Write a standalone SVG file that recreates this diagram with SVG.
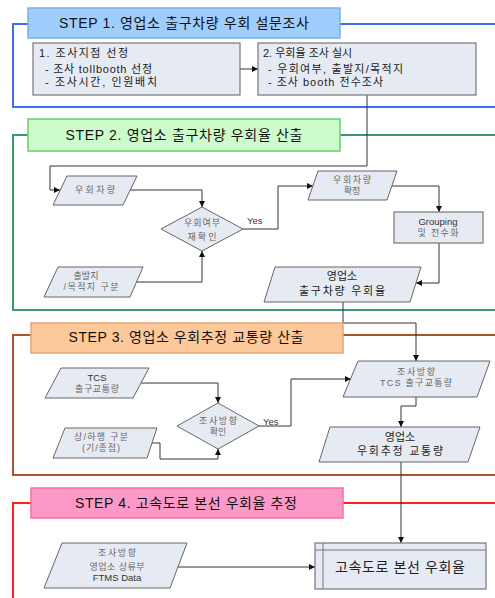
<svg xmlns="http://www.w3.org/2000/svg" width="495" height="598" viewBox="0 0 495 598">
<defs>
<marker id="ah" markerWidth="6" markerHeight="6" refX="6" refY="3" orient="auto" markerUnits="userSpaceOnUse"><path d="M0,0 L6,3 L0,6 z" fill="#111"/></marker>
<style>
text{font-family:"Liberation Sans","Noto Sans CJK KR",sans-serif}
.hdr{font-size:14px;fill:#111;text-anchor:middle}
.bx{fill:#e6ebf3;stroke:#777;stroke-width:1.2}
.nd{fill:#e6ebf3;stroke:#666;stroke-width:1}
.t11{font-size:11px;fill:#222}
.sm{font-size:9px;fill:#666;text-anchor:middle}
.smd{font-size:9.5px;fill:#333;text-anchor:middle}
.big{font-size:11px;fill:#222;text-anchor:middle}
.con{fill:none;stroke:#333;stroke-width:1}
.fr{fill:none;stroke-width:2}
</style>
</defs>
<rect width="495" height="598" fill="#fff"/>

<g id="frames">
<path class="fr" stroke="#3a6ef5" d="M28,24 H13 V107 H495 M340,24 H495"/>
<path class="fr" stroke="#3a9a68" d="M28,135 H13 V310 H495 M340,135 H495"/>
<path class="fr" stroke="#a8552a" d="M31,335 H13 V475 H495 M343,335 H495"/>
<path class="fr" stroke="#ff2020" d="M31,503 H13 V598 M343,503 H495"/>
</g>

<g id="connectors">
<path class="con" d="M240,69 H258" marker-end="url(#ah)"/>
<path class="con" d="M367,95 V166 H50 V190 H60" marker-end="url(#ah)"/>
<path class="con" d="M130,190 H202 V207" marker-end="url(#ah)"/>
<path class="con" d="M136,282 H202 V251" marker-end="url(#ah)"/>
<path class="con" d="M243,229 H278 V186 H313" marker-end="url(#ah)"/>
<path class="con" d="M392,186 H439 V212" marker-end="url(#ah)"/>
<path class="con" d="M439,243 V283 H416" marker-end="url(#ah)"/>
<path class="con" d="M343,302 V323 H416 V361" marker-end="url(#ah)"/>
<path class="con" d="M141,383 H218 V403" marker-end="url(#ah)"/>
<path class="con" d="M151,443 H160 V459 H218 V449" marker-end="url(#ah)"/>
<path class="con" d="M259,426 H291 V379 H351" marker-end="url(#ah)"/>
<path class="con" d="M416,397 V406 H401 V427" marker-end="url(#ah)"/>
<path class="con" d="M401,462 V543" marker-end="url(#ah)"/>
<path class="con" d="M178,567 H315" marker-end="url(#ah)"/>
<text x="247" y="224" font-size="9.5" fill="#333">Yes</text>
<text x="263" y="425" font-size="9.5" fill="#333">Yes</text>
</g>

<g id="step1">
<rect x="28" y="8" width="312" height="30" fill="#9fcdfc" stroke="#7ab0ee" stroke-width="1.5"/>
<text class="hdr" x="184" y="28" textLength="250" lengthAdjust="spacing">STEP 1. 영업소 출구차량 우회 설문조사</text>
</g>
<g id="box1">
<rect class="bx" x="33" y="43" width="207" height="52"/>
<text class="t11" x="39" y="57" textLength="89" lengthAdjust="spacing">1. 조사지점 선정</text>
<text class="t11" x="45" y="73" textLength="107" lengthAdjust="spacing">- 조사 tollbooth 선정</text>
<text class="t11" x="45" y="86" textLength="112" lengthAdjust="spacing">- 조사시간, 인원배치</text>
</g>
<g id="box2">
<rect class="bx" x="258" y="43" width="218" height="52"/>
<text class="t11" x="263" y="57">2. 우회율 조사 실시</text>
<text class="t11" x="268" y="73" textLength="135" lengthAdjust="spacing">- 우회여부, 출발지/목적지</text>
<text class="t11" x="268" y="86" textLength="115" lengthAdjust="spacing">- 조사 booth 전수조사</text>
</g>

<g id="step2">
<rect x="28" y="119" width="312" height="32" fill="#ccfccc" stroke="#6ccc6c" stroke-width="1.5"/>
<text class="hdr" x="184" y="140" textLength="237" lengthAdjust="spacing">STEP 2. 영업소 출구차량 우회율 산출</text>
</g>
<g id="n_car">
<polygon class="nd" points="67,176 137,176 123,205 53,205"/>
<text class="sm" x="95" y="193" textLength="40" lengthAdjust="spacing">우회차량</text>
</g>
<g id="n_check">
<polygon class="nd" points="202,207 243,229 202,251 161,229"/>
<text class="sm" x="202" y="226" textLength="36" lengthAdjust="spacing">우회여부</text>
<text class="sm" x="202" y="240" textLength="29" lengthAdjust="spacing">재확인</text>
</g>
<g id="n_od">
<polygon class="nd" points="58,267 143,267 130,297 44,297"/>
<text class="sm" x="86" y="279">출발지</text>
<text class="sm" x="91" y="290" textLength="55" lengthAdjust="spacing">/목적지 구분</text>
</g>
<g id="n_confirm">
<polygon class="nd" points="318,171 397,171 387,200 308,200"/>
<text class="sm" x="352" y="183" textLength="38" lengthAdjust="spacing">우회차량</text>
<text class="sm" x="352" y="194">확정</text>
</g>
<g id="n_group">
<rect class="bx" x="394" y="212" width="89" height="31"/>
<text class="smd" x="438" y="225">Grouping</text>
<text class="sm" x="438" y="236" textLength="41" lengthAdjust="spacing">및 전수화</text>
</g>
<g id="n_rate">
<polygon class="nd" points="275,267 421,267 410,302 264,302"/>
<text class="big" x="342" y="280">영업소</text>
<text class="big" x="342" y="295" textLength="86" lengthAdjust="spacing">출구차량 우회율</text>
</g>

<g id="step3">
<rect x="31" y="323" width="312" height="30" fill="#fec99a" stroke="#e6a676" stroke-width="1.5"/>
<text class="hdr" x="186" y="342" textLength="235" lengthAdjust="spacing">STEP 3. 영업소 우회추정 교통량 산출</text>
</g>
<g id="n_tcs">
<polygon class="nd" points="61,368 149,368 133,398 45,398"/>
<text class="smd" x="97" y="381">TCS</text>
<text class="sm" x="97" y="392" textLength="44" lengthAdjust="spacing">출구교통량</text>
</g>
<g id="n_dir">
<polygon class="nd" points="218,403 259,426 218,449 177,426"/>
<text class="sm" x="218" y="424" textLength="38" lengthAdjust="spacing">조사방향</text>
<text class="sm" x="218" y="435">확인</text>
</g>
<g id="n_updown">
<polygon class="nd" points="65,428 157,428 147,458 53,458"/>
<text class="sm" x="101" y="440" textLength="54" lengthAdjust="spacing">상/하행 구분</text>
<text class="sm" x="101" y="451" textLength="38" lengthAdjust="spacing">(기/종점)</text>
</g>
<g id="n_dirtcs">
<polygon class="nd" points="358,361 490,361 477,397 343,397"/>
<text class="sm" x="416" y="375" textLength="38" lengthAdjust="spacing">조사방향</text>
<text class="sm" x="416" y="386" textLength="72" lengthAdjust="spacing">TCS 출구교통량</text>
</g>
<g id="n_est">
<polygon class="nd" points="330,427 480,427 468,462 319,462"/>
<text class="big" x="400" y="441">영업소</text>
<text class="big" x="400" y="455" textLength="86" lengthAdjust="spacing">우회추정 교통량</text>
</g>

<g id="step4">
<rect x="31" y="488" width="312" height="30" fill="#fd99c9" stroke="#ff6c9c" stroke-width="1.5"/>
<text class="hdr" x="186" y="508" textLength="222" lengthAdjust="spacing">STEP 4. 고속도로 본선 우회율 추정</text>
</g>
<g id="n_ftms">
<polygon class="nd" points="62,543 187,543 170,588 44,588"/>
<text class="sm" x="117" y="556" textLength="38" lengthAdjust="spacing">조사방향</text>
<text class="sm" x="117" y="570" textLength="55" lengthAdjust="spacing">영업소 상류부</text>
<text class="smd" x="117" y="581">FTMS Data</text>
</g>
<g id="n_main">
<rect class="bx" x="315" y="543" width="171" height="46"/>
<path d="M323,543 V589 M315,550 H486" stroke="#777" stroke-width="1" fill="none"/>
<text x="400" y="572" font-size="14" fill="#222" text-anchor="middle" textLength="130" lengthAdjust="spacing">고속도로 본선 우회율</text>
</g>
</svg>
